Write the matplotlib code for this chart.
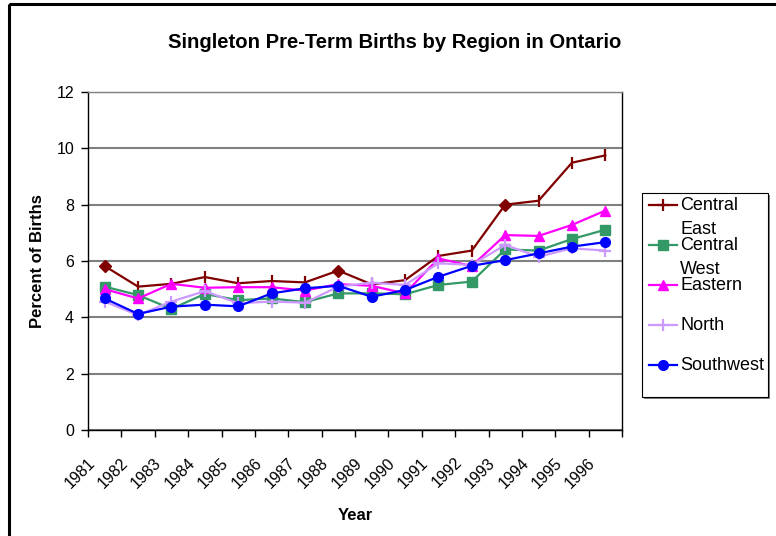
import matplotlib
matplotlib.use("Agg")
import matplotlib.pyplot as plt
import matplotlib.transforms as mtransforms
from matplotlib.patches import Rectangle
import numpy as np

plt.rcParams['font.family'] = ['Liberation Sans', 'DejaVu Sans']

years = ["1981", "1982", "1983", "1984", "1985", "1986", "1987", "1988",
         "1989", "1990", "1991", "1992", "1993", "1994", "1995", "1996"]

central_east = [5.82, 5.09, 5.19, 5.43, 5.21, 5.29, 5.24, 5.66,
                5.17, 5.32, 6.18, 6.37, 8.00, 8.14, 9.49, 9.75]
central_west = [5.09, 4.79, 4.30, 4.83, 4.61, 4.67, 4.54, 4.85,
                4.85, 4.82, 5.15, 5.27, 6.41, 6.37, 6.78, 7.11]
eastern = [5.00, 4.67, 5.19, 5.05, 5.07, 5.07, 4.95, 5.18,
           5.12, 4.85, 6.09, 5.82, 6.92, 6.89, 7.28, 7.79]
north = [4.56, 4.08, 4.56, 4.93, 4.50, 4.56, 4.52, 5.09,
         5.23, 5.15, 5.92, 5.86, 6.57, 6.15, 6.45, 6.37]
southwest = [4.67, 4.12, 4.38, 4.45, 4.39, 4.85, 5.03, 5.12,
             4.73, 4.97, 5.44, 5.83, 6.03, 6.27, 6.51, 6.67]

series_names = ["Central East", "Central West", "Eastern", "North", "Southwest"]
series_values = [central_east, central_west, eastern, north, southwest]

# styles
colors = ["#800000", "#339966", "#FF00FF", "#CC99FF", "#0000FF"]
markers = ["+", "s", "^", "+", "o"]
msizes = [9, 6.5, 7.5, 9, 7]
# Excel quirk: a few Central East points drawn as diamonds
ce_diamond_points = {0, 7, 12}

W, H = 776, 536
fig = plt.figure(figsize=(W / 100, H / 100), dpi=100)
ax_l, ax_r, ax_t, ax_b = 88, 622, 92, 430
ax = fig.add_axes([ax_l / W, 1 - ax_b / H, (ax_r - ax_l) / W, (ax_b - ax_t) / H])

x = np.arange(len(years))
for i, (name, vals) in enumerate(zip(series_names, series_values)):
    c = colors[i]
    if i == 0:
        ax.plot(x, vals, color=c, lw=1.6, zorder=3 + i)
        xs_d = [x[k] for k in range(len(vals)) if k in ce_diamond_points]
        ys_d = [vals[k] for k in range(len(vals)) if k in ce_diamond_points]
        xs_p = [x[k] for k in range(len(vals)) if k not in ce_diamond_points]
        ys_p = [vals[k] for k in range(len(vals)) if k not in ce_diamond_points]
        ax.plot(xs_p, ys_p, ls='none', marker='|', ms=9, mew=1.6, color=c, zorder=3 + i)
        ax.plot(xs_d, ys_d, ls='none', marker='D', ms=6, color=c, zorder=3 + i)
    else:
        mew = 1.6 if markers[i] == '+' else 1
        ax.plot(x, vals, color=c, lw=1.6, marker=markers[i], ms=msizes[i],
                mew=mew, mfc=c, mec=c, zorder=3 + i)

ax.set_xlim(-0.5, len(years) - 0.5)
ax.set_ylim(0, 12)
ax.set_yticks(np.arange(0, 13, 2))
ax.yaxis.grid(True, color="#808080", lw=1.5)
ax.set_axisbelow(True)
ax.tick_params(axis='y', direction='out', length=5, width=1, pad=5, labelsize=11.5)

ax.set_xticks(x)
ax.set_xticklabels(years, rotation=45, ha='right', va='top', fontsize=11.5)
ax.tick_params(axis='x', which='major', length=0, pad=18)
ax.set_xticks(np.arange(-0.5, len(years), 1), minor=True)
ax.tick_params(axis='x', which='minor', direction='out', length=5, width=1)
offset = mtransforms.ScaledTranslation(-7 / 100, 0, fig.dpi_scale_trans)
for lab in ax.get_xticklabels():
    lab.set_transform(lab.get_transform() + offset)

for sp in ax.spines.values():
    sp.set_color('black')
    sp.set_linewidth(1)
ax.spines['top'].set_color('#808080')

ax.set_xlabel("Year", fontsize=12, fontweight='bold', labelpad=12)
ax.set_ylabel("Percent of Births", fontsize=12, fontweight='bold', labelpad=8)

fig.text(395 / W, 1 - 43 / H, "Singleton Pre-Term Births by Region in Ontario",
         ha='center', va='center', fontsize=14.6, fontweight='bold')

# overlay for border and legend
ov = fig.add_axes([0, 0, 1, 1], zorder=10)
ov.set_xlim(0, W)
ov.set_ylim(H, 0)
ov.axis('off')
ov.patch.set_alpha(0)
ov.add_patch(Rectangle((9, 4), W + 20, H + 20, fill=False, lw=2.2, ec='black'))

lx0, ly0, lx1, ly1 = 642, 193, 768, 397
ov.add_patch(Rectangle((lx0 + 1.5, ly0 + 1.5), lx1 - lx0, ly1 - ly0, fc='#808080', ec='none'))
ov.add_patch(Rectangle((lx0, ly0), lx1 - lx0, ly1 - ly0, fc='white', ec='black', lw=0.8))
entry_y = [205, 245, 285, 325, 365]
for i, name in enumerate(series_names):
    y = entry_y[i]
    c = colors[i]
    ov.plot([649, 677], [y, y], color=c, lw=1.6)
    m = markers[i]
    mew = 1.6 if m == '+' else 1
    ov.plot([663], [y], marker=m, ms=msizes[i], color=c, mew=mew, ls='none')
    parts = name.split(" ")
    for j, p in enumerate(parts):
        ov.text(680, y + 24 * j, p, fontsize=13, ha='left', va='center')

fig.savefig("out.png", dpi=100)
